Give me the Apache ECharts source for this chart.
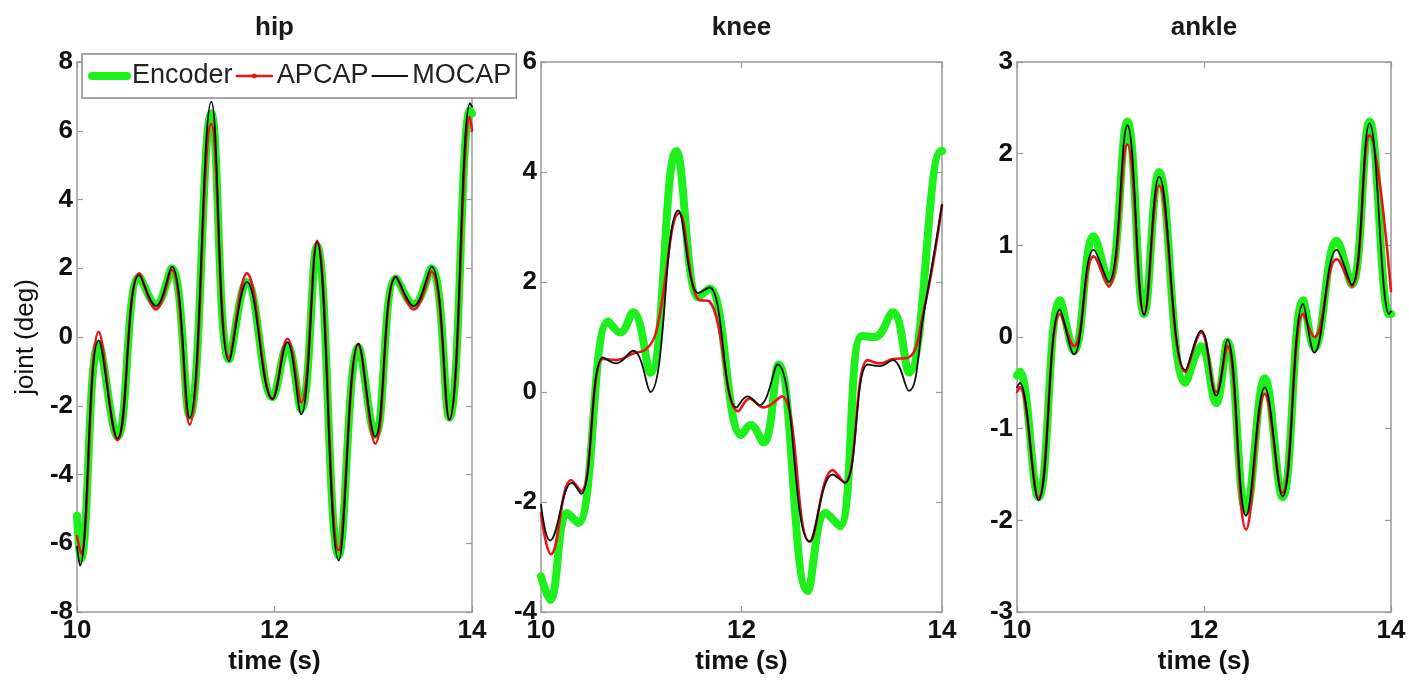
<!DOCTYPE html>
<html><head><meta charset="utf-8">
<script src="https://cdn.jsdelivr.net/npm/echarts@6/dist/echarts.min.js"></script>
<style>html,body{margin:0;padding:0;background:#fff}#c{width:1409px;height:682px}</style>
</head><body><div id="c"></div>
<script>
// ---- data ----
const joints = ['hip', 'knee', 'ankle'];
const seriesNames = ['Encoder', 'APCAP', 'MOCAP'];
const xTicks = [10, 12, 14];
const yMins = [-8, -4, -3];
const yMaxs = [8, 6, 3];
const ySteps = [2, 2, 1];
const xLabel = 'time (s)';
const yLabel = 'joint (deg)';

// [time (s), joint (deg)]
const hipEncoder = [[10.0,-5.2],[10.04,-6.45],[10.22,-0.2],[10.41,-2.9],[10.63,1.75],[10.80,0.95],[10.96,2.0],[11.14,-2.3],[11.36,6.5],[11.54,-0.65],[11.72,1.6],[11.98,-1.75],[12.13,-0.25],[12.27,-2.1],[12.43,2.65],[12.65,-6.35],[12.85,-0.3],[13.02,-2.85],[13.23,1.7],[13.41,0.95],[13.59,2.0],[13.77,-2.35],[13.98,6.6],[14.0,6.5]];
const hipApcap = [[10.0,-5.8],[10.04,-6.3],[10.22,0.15],[10.41,-3.0],[10.63,1.85],[10.80,0.8],[10.96,1.95],[11.14,-2.55],[11.36,6.2],[11.54,-0.6],[11.72,1.85],[11.98,-1.8],[12.13,-0.05],[12.27,-1.9],[12.43,2.8],[12.65,-6.2],[12.85,-0.2],[13.02,-3.1],[13.23,1.75],[13.41,0.8],[13.59,1.9],[13.77,-2.4],[13.98,6.4],[14.0,6.0]];
const hipMocap = [[10.0,-6.1],[10.03,-6.65],[10.22,-0.1],[10.41,-2.95],[10.63,1.8],[10.80,0.9],[10.96,2.05],[11.14,-2.35],[11.36,6.85],[11.54,-0.7],[11.72,1.6],[11.98,-1.8],[12.13,-0.15],[12.27,-2.25],[12.43,2.75],[12.65,-6.5],[12.85,-0.2],[13.02,-2.9],[13.23,1.75],[13.41,0.9],[13.59,2.05],[13.77,-2.4],[13.98,6.8],[14.0,6.7]];

const kneeEncoder = [[10.0,-3.35],[10.09,-3.78],[10.26,-2.2],[10.37,-2.38],[10.67,1.28],[10.79,1.08],[10.92,1.45],[11.09,0.35],[11.35,4.38],[11.57,1.72],[11.68,1.88],[12.0,-0.78],[12.09,-0.6],[12.22,-0.92],[12.37,0.5],[12.66,-3.62],[12.84,-2.2],[12.98,-2.44],[13.2,1.02],[13.33,1.0],[13.51,1.45],[13.67,0.35],[13.99,4.38],[14.0,4.38]];
const kneeApcap = [[10.0,-2.2],[10.1,-2.95],[10.3,-1.6],[10.4,-1.8],[10.62,0.6],[10.75,0.58],[10.92,0.7],[11.05,0.78],[11.15,1.1],[11.38,3.25],[11.57,1.68],[11.68,1.65],[11.97,-0.35],[12.08,-0.12],[12.22,-0.28],[12.40,-0.08],[12.68,-2.72],[12.91,-1.42],[13.03,-1.65],[13.26,0.58],[13.38,0.52],[13.51,0.6],[13.66,0.62],[13.82,1.5],[14.0,3.4]];
const kneeMocap = [[10.0,-2.05],[10.09,-2.7],[10.31,-1.65],[10.40,-1.85],[10.62,0.63],[10.75,0.52],[10.92,0.75],[11.09,0.0],[11.37,3.3],[11.57,1.8],[11.68,1.9],[11.95,-0.28],[12.06,-0.08],[12.18,-0.24],[12.36,0.5],[12.68,-2.72],[12.91,-1.5],[13.03,-1.65],[13.26,0.5],[13.38,0.47],[13.51,0.58],[13.67,0.02],[13.82,1.45],[14.0,3.4]];

const ankleEncoder = [[10.0,-0.42],[10.03,-0.38],[10.23,-1.75],[10.46,0.4],[10.61,-0.15],[10.82,1.1],[10.98,0.6],[11.18,2.35],[11.36,0.25],[11.52,1.8],[11.80,-0.5],[11.97,-0.1],[12.13,-0.72],[12.25,-0.05],[12.45,-1.9],[12.65,-0.45],[12.84,-1.75],[13.06,0.4],[13.18,-0.12],[13.42,1.05],[13.58,0.57],[13.77,2.35],[13.98,0.25],[14.0,0.25]];
const ankleApcap = [[10.0,-0.6],[10.03,-0.55],[10.23,-1.75],[10.46,0.25],[10.61,-0.1],[10.82,0.88],[10.98,0.55],[11.18,2.1],[11.36,0.25],[11.52,1.65],[11.80,-0.38],[11.97,0.05],[12.13,-0.6],[12.25,-0.1],[12.45,-2.1],[12.65,-0.62],[12.84,-1.7],[13.06,0.25],[13.18,0.0],[13.42,0.85],[13.58,0.55],[13.77,2.2],[14.0,0.5]];
const ankleMocap = [[10.0,-0.55],[10.03,-0.5],[10.23,-1.78],[10.46,0.3],[10.61,-0.19],[10.82,0.95],[10.98,0.6],[11.18,2.31],[11.36,0.24],[11.52,1.75],[11.80,-0.36],[11.97,0.07],[12.13,-0.64],[12.25,-0.03],[12.45,-1.95],[12.65,-0.55],[12.84,-1.74],[13.06,0.36],[13.18,-0.17],[13.42,0.95],[13.58,0.57],[13.77,2.33],[13.98,0.25],[14.0,0.28]];

const dataByJoint = [
  [hipEncoder, hipApcap, hipMocap],
  [kneeEncoder, kneeApcap, kneeMocap],
  [ankleEncoder, ankleApcap, ankleMocap]
];

// ---- layout / style ----
const FONT = '"Liberation Sans", Arial, Helvetica, sans-serif';
const boxes = [{left: 77, width: 395}, {left: 541, width: 401}, {left: 1017, width: 374}];
const TOP = 62, HEIGHT = 550;
const axisGray = '#9a9a9a';
const colors = ['#1ef01e', '#e8141a', '#111111'];
const widths = [8, 2.6, 1.8];

const grid = boxes.map(b => ({left: b.left, width: b.width, top: TOP, height: HEIGHT, containLabel: false}));

const title = joints.map((j, i) => ({
  text: j, left: boxes[i].left + boxes[i].width / 2, top: 15, textAlign: 'center', padding: 0,
  textStyle: {fontFamily: FONT, fontSize: 26, fontWeight: 'bold', color: '#1a1a1a'}
}));

const xAxis = [], yAxis = [];
joints.forEach((j, i) => {
  const common = {
    type: 'value', gridIndex: i, min: xTicks[0], max: xTicks[xTicks.length - 1], interval: xTicks[1] - xTicks[0],
    axisLine: {show: true, onZero: false, lineStyle: {color: axisGray, width: 1.5}},
    axisTick: {show: true, inside: true, length: 6, lineStyle: {color: axisGray, width: 1.2}},
    splitLine: {show: false}
  };
  xAxis.push(Object.assign({}, common, {
    position: 'bottom',
    axisLabel: {fontFamily: FONT, fontSize: 26, fontWeight: 'bold', color: '#111', margin: 6},
    name: xLabel, nameLocation: 'middle', nameGap: 29,
    nameTextStyle: {fontFamily: FONT, fontSize: 26, fontWeight: 'bold', color: '#111'}
  }));
  xAxis.push(Object.assign({}, common, {position: 'top', axisLabel: {show: false}}));
  const yc = {
    type: 'value', gridIndex: i, min: yMins[i], max: yMaxs[i], interval: ySteps[i],
    axisLine: {show: true, onZero: false, lineStyle: {color: axisGray, width: 1.5}},
    axisTick: {show: true, inside: true, length: 6, lineStyle: {color: axisGray, width: 1.2}},
    splitLine: {show: false}
  };
  const yl = Object.assign({}, yc, {
    position: 'left',
    axisLabel: {fontFamily: FONT, fontSize: 26, fontWeight: 'bold', color: '#111', margin: 4}
  });
  if (i === 0) {
    Object.assign(yl, {name: yLabel, nameLocation: 'middle', nameGap: 38,
      nameTextStyle: {fontFamily: FONT, fontSize: 26, color: '#111'}});
  }
  yAxis.push(yl);
  yAxis.push(Object.assign({}, yc, {position: 'right', axisLabel: {show: false}}));
});

const series = [];
joints.forEach((j, i) => {
  seriesNames.forEach((name, k) => {
    series.push({
      name, type: 'line', xAxisIndex: 2 * i, yAxisIndex: 2 * i,
      data: dataByJoint[i][k],
      smooth: 0.42,
      symbol: k === 1 ? 'circle' : 'none', symbolSize: 4, showSymbol: false,
      lineStyle: {color: colors[k], width: widths[k], cap: 'round', join: 'round'},
      itemStyle: {color: colors[k]},
      z: 2 + k, silent: true, animation: false
    });
  });
});

const legend = {
  left: 82, top: 54, orient: 'horizontal',
  backgroundColor: '#ffffff', borderColor: '#8a8a8a', borderWidth: 1.5, borderRadius: 0,
  padding: [7, 5, 7, 6], itemGap: 3, itemWidth: 35, itemHeight: 6,
  textStyle: {fontFamily: FONT, fontSize: 27, color: '#222', lineHeight: 30},
  data: seriesNames.map((n, k) => ({
    name: n,
    lineStyle: {width: widths[k], color: colors[k]},
    itemStyle: k === 1 ? {color: colors[k]} : {opacity: 0}
  })),
  z: 10
};

const chart = echarts.init(document.getElementById('c'), null, {renderer: 'canvas'});
chart.setOption({backgroundColor: '#ffffff', animation: false, title, grid, xAxis, yAxis, legend, series});
</script>
</body></html>
